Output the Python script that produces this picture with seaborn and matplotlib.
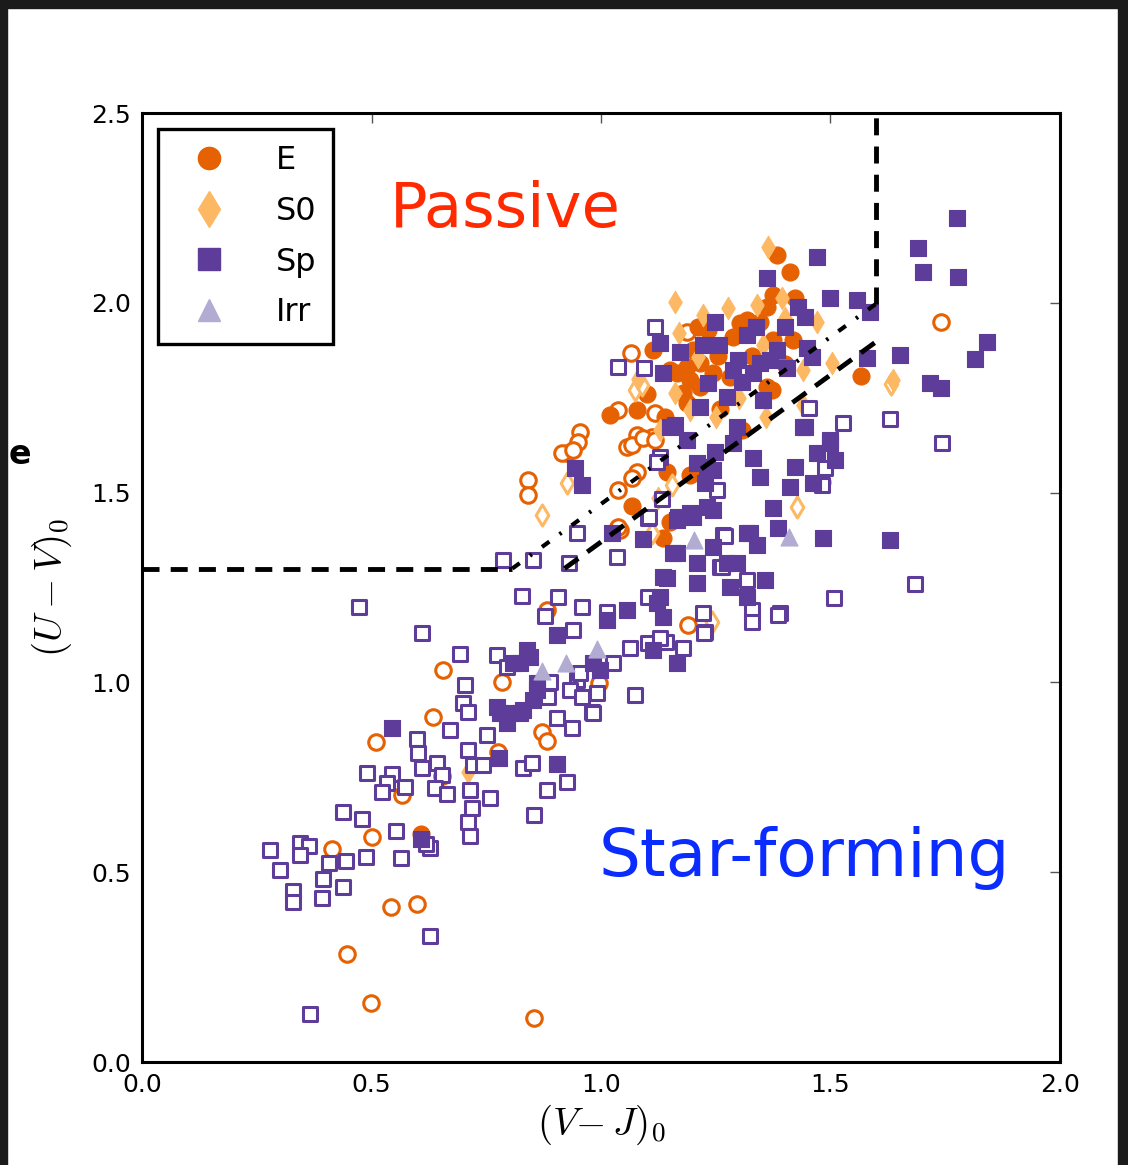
import matplotlib
matplotlib.use("Agg")
import matplotlib.pyplot as plt
from matplotlib.lines import Line2D
from matplotlib.patches import Rectangle
import pandas as pd
import seaborn as sns

# ── Data: (V-J)_0, (U-V)_0 per morphology, filled / open markers ──────────────
E_FILLED = [
    (1.383, 2.126), (1.412, 2.081), (1.423, 2.013), (1.375, 2.021), (1.362, 1.989),
    (1.346, 1.949), (1.318, 1.955), (1.303, 1.947), (1.211, 1.936), (1.233, 1.928),
    (1.288, 1.910), (1.113, 1.876), (1.200, 1.876), (1.216, 1.841), (1.187, 1.831),
    (1.166, 1.815), (1.194, 1.797), (1.244, 1.815), (1.216, 1.778), (1.179, 1.762),
    (1.150, 1.823), (1.187, 1.736), (1.362, 1.778), (1.418, 1.902), (1.375, 1.902),
    (1.020, 1.704), (1.078, 1.717), (1.373, 1.770), (1.281, 1.804), (1.566, 1.807),
    (1.068, 1.465), (1.144, 1.554), (1.194, 1.546), (1.135, 1.380), (1.150, 1.423),
    (1.307, 1.665), (1.481, 1.528), (1.255, 1.860), (1.330, 1.860), (1.400, 1.840),
    (1.260, 1.720), (1.100, 1.760), (1.140, 1.700), (0.608, 0.600),
]
E_OPEN = [
    (1.065, 1.868), (1.187, 1.923), (1.037, 1.717), (1.118, 1.710), (0.954, 1.660),
    (0.950, 1.633), (0.926, 1.604), (0.915, 1.604), (1.078, 1.652), (1.057, 1.620),
    (1.111, 1.646), (0.841, 1.533), (0.841, 1.494), (1.037, 1.507), (1.041, 1.401),
    (1.068, 1.625), (1.092, 1.644), (1.118, 1.639), (1.078, 1.554), (1.068, 1.538),
    (1.741, 1.949), (0.882, 1.191), (0.656, 1.033), (0.784, 1.001), (0.634, 0.909),
    (0.871, 0.869), (0.882, 0.846), (0.996, 0.998), (1.190, 1.151), (1.037, 1.409),
    (0.510, 0.843), (0.566, 0.703), (0.501, 0.593), (0.414, 0.561), (0.542, 0.408),
    (0.599, 0.416), (0.447, 0.285), (0.499, 0.155), (0.854, 0.116), (0.776, 0.817),
    (0.654, 0.753), (0.939, 1.612),
]
S0_FILLED = [
    (1.364, 2.147), (1.161, 2.002), (1.277, 1.986), (1.340, 1.994), (1.222, 1.968),
    (1.394, 2.013), (1.353, 1.889), (1.161, 1.762), (1.440, 1.823), (1.211, 1.857),
    (1.194, 1.717), (1.471, 1.949), (1.503, 1.841), (1.129, 1.665), (1.124, 1.486),
    (1.636, 1.797), (1.400, 1.960), (1.300, 1.750), (1.250, 1.700), (1.360, 1.700),
    (1.440, 1.730), (1.080, 1.800), (1.170, 1.920), (0.710, 0.764),
]
S0_OPEN = [
    (1.074, 1.770), (1.089, 1.783), (0.926, 1.525), (1.155, 1.520), (1.427, 1.462),
    (1.111, 1.394), (0.871, 1.441), (1.242, 1.159), (1.631, 1.785),
]
SP_FILLED = [
    (0.545, 0.880), (0.608, 0.587), (0.904, 0.785), (0.778, 0.801), (0.830, 0.927),
    (0.852, 0.954), (0.802, 0.919), (0.773, 0.935), (0.861, 0.998), (0.824, 1.051),
    (0.845, 1.067), (0.839, 1.085), (0.808, 1.051), (0.795, 0.893), (0.780, 0.919),
    (0.983, 1.051), (0.998, 1.033), (0.904, 1.125), (1.013, 1.164), (1.057, 1.191),
    (1.122, 1.209), (1.135, 1.172), (1.166, 1.051), (1.113, 1.085), (1.129, 1.225),
    (1.144, 1.275), (1.209, 1.262), (1.209, 1.315), (1.244, 1.357), (1.281, 1.251),
    (1.296, 1.315), (1.157, 1.341), (1.092, 1.378), (1.024, 1.394), (1.168, 1.436),
    (1.194, 1.446), (1.231, 1.462), (1.227, 1.525), (1.244, 1.560), (1.209, 1.578),
    (1.318, 1.394), (1.318, 1.225), (0.943, 1.565), (0.959, 1.520), (1.166, 1.428),
    (1.200, 1.436), (1.244, 1.454), (1.231, 1.568), (1.331, 1.591), (1.346, 1.541),
    (1.375, 1.459), (1.386, 1.407), (1.325, 1.394), (1.340, 1.362), (1.423, 1.568),
    (1.412, 1.515), (1.462, 1.525), (1.471, 1.604), (1.499, 1.631), (1.510, 1.586),
    (1.484, 1.380), (1.440, 1.673), (1.288, 1.631), (1.248, 1.607), (1.166, 1.341),
    (1.135, 1.278), (1.275, 1.315), (1.357, 1.270), (1.296, 1.673), (1.150, 1.673),
    (1.187, 1.639), (1.630, 1.375), (0.861, 0.980), (0.824, 0.919),
    (1.362, 2.065), (1.471, 2.121), (1.429, 1.989), (1.444, 1.963), (1.401, 1.936),
    (1.318, 1.915), (1.338, 1.936), (1.248, 1.949), (1.449, 1.881), (1.383, 1.876),
    (1.368, 1.849), (1.346, 1.841), (1.298, 1.849), (1.288, 1.823), (1.331, 1.815),
    (1.307, 1.791), (1.353, 1.744), (1.275, 1.752), (1.233, 1.789), (1.216, 1.726),
    (1.257, 1.889), (1.222, 1.889), (1.172, 1.870), (1.129, 1.894), (1.135, 1.815),
    (1.161, 1.678), (1.405, 1.828), (1.460, 1.857), (1.444, 1.673),
    (1.776, 2.223), (1.691, 2.144), (1.702, 2.081), (1.778, 2.068), (1.499, 2.013),
    (1.558, 2.008), (1.586, 1.976), (1.580, 1.855), (1.651, 1.863), (1.841, 1.897),
    (1.815, 1.852), (1.717, 1.789), (1.741, 1.776), (1.499, 1.639),
]
SP_OPEN = [
    (0.279, 0.558), (0.344, 0.577), (0.364, 0.569), (0.344, 0.545), (0.301, 0.506),
    (0.407, 0.524), (0.444, 0.530), (0.395, 0.482), (0.437, 0.461), (0.329, 0.450),
    (0.329, 0.421), (0.392, 0.432), (0.488, 0.540), (0.564, 0.537), (0.553, 0.608),
    (0.437, 0.659), (0.479, 0.640), (0.627, 0.564), (0.618, 0.575), (0.627, 0.332),
    (0.366, 0.126), (0.490, 0.761), (0.545, 0.759), (0.534, 0.735), (0.523, 0.711),
    (0.573, 0.724), (0.599, 0.851), (0.601, 0.814), (0.610, 0.775), (0.643, 0.788),
    (0.654, 0.756), (0.638, 0.722), (0.664, 0.706), (0.671, 0.875), (0.704, 0.993),
    (0.700, 0.946), (0.710, 0.922), (0.710, 0.822), (0.721, 0.782), (0.715, 0.717),
    (0.719, 0.669), (0.710, 0.632), (0.715, 0.595), (0.743, 0.782), (0.758, 0.696),
    (0.752, 0.861), (0.773, 1.072), (0.693, 1.075), (0.830, 0.775), (0.850, 0.788),
    (0.882, 0.717), (0.926, 0.738), (0.854, 0.651), (0.937, 0.880), (0.904, 0.906),
    (0.889, 1.001), (0.948, 1.006), (0.980, 0.922), (0.991, 0.972), (0.932, 0.980),
    (0.473, 1.199), (0.610, 1.130),
    (0.786, 1.322), (0.852, 1.322), (0.930, 1.315), (0.948, 1.394), (1.035, 1.330),
    (1.102, 1.433), (1.133, 1.483), (0.828, 1.228), (0.907, 1.225), (0.878, 1.175),
    (0.959, 1.199), (0.939, 1.138), (0.795, 1.041), (0.954, 1.025), (0.959, 0.962),
    (0.983, 0.919), (1.074, 0.967), (0.885, 0.962), (1.063, 1.091), (1.102, 1.104),
    (1.142, 1.106), (1.179, 1.091), (1.102, 1.225), (1.222, 1.183), (1.227, 1.133),
    (1.259, 1.304), (1.266, 1.388), (1.253, 1.507), (1.129, 1.594),
    (1.118, 1.936), (1.037, 1.831), (1.094, 1.828), (1.453, 1.723), (1.527, 1.683),
    (1.630, 1.694), (1.743, 1.631), (1.481, 1.520), (1.488, 1.565), (1.684, 1.259),
    (1.508, 1.222), (1.105, 1.436), (1.122, 1.581), (1.270, 1.386), (1.318, 1.270),
    (1.390, 1.183), (1.329, 1.191), (1.329, 1.159), (1.386, 1.178), (1.224, 1.130),
    (1.129, 1.117), (1.026, 1.051), (1.013, 1.185), (1.264, 1.304),
]
IRR_FILLED = [(0.871, 1.030), (0.924, 1.051), (0.991, 1.088), (1.203, 1.375), (1.410, 1.383)]

MORPH_LABELS = ["E", "S0", "Sp", "Irr"]
MORPH_COLORS = {"E": "#e66101", "S0": "#fdb863", "Sp": "#5e3c99", "Irr": "#b2abd2"}
MORPH_MARKERS = {"E": "o", "S0": "d", "Sp": "s", "Irr": "^"}

# UVJ selection box (Williams et al. style): U-V = 0.88 (V-J) + 0.59
BOX_SLOPE = 0.88
BOX_ICPT = 0.59
BOX_UV_MIN = 1.3
BOX_VJ_MAX = 1.6
SHIFT = 0.10

rows = []
for morph, filled, pts in [
    ("E", False, E_OPEN), ("E", True, E_FILLED),
    ("S0", False, S0_OPEN), ("S0", True, S0_FILLED),
    ("Sp", False, SP_OPEN), ("Sp", True, SP_FILLED),
    ("Irr", True, IRR_FILLED),
]:
    for vj, uv in pts:
        rows.append({"vj": vj, "uv": uv, "morph": morph, "filled": filled})
df = pd.DataFrame(rows)

# ── Style ─────────────────────────────────────────────────────────────────────
sns.set_theme(style="white")
plt.rcParams.update({
    "font.family": ["DejaVu Sans"],
    "mathtext.fontset": "cm",
    "text.color": "black", "axes.labelcolor": "black",
    "xtick.direction": "in", "ytick.direction": "in",
    "xtick.top": True, "ytick.right": True,
    "xtick.major.size": 7, "ytick.major.size": 7,
    "xtick.major.width": 1.0, "ytick.major.width": 1.0,
    "xtick.color": "#555555", "ytick.color": "#555555",
    "xtick.labelcolor": "black", "ytick.labelcolor": "black",
})

fig = plt.figure(figsize=(11.28, 11.65), dpi=100)
ax = fig.add_axes([0.1259, 0.0884, 0.8138, 0.8146])

SIZES = {"E": (150, 125), "S0": (130, 115), "Sp": (130, 115), "Irr": (150, 150)}

for morph in MORPH_LABELS:
    col = MORPH_COLORS[morph]
    mk = MORPH_MARKERS[morph]
    s_fill, s_open = SIZES[morph]
    sub_open = df[(df.morph == morph) & (~df.filled)]
    sub_fill = df[(df.morph == morph) & (df.filled)]
    if len(sub_open):
        sns.scatterplot(data=sub_open, x="vj", y="uv", ax=ax, marker=mk, s=s_open,
                        color="white", edgecolor=col, linewidth=2.2, legend=False, zorder=3)
    if len(sub_fill):
        sns.scatterplot(data=sub_fill, x="vj", y="uv", ax=ax, marker=mk, s=s_fill,
                        color=col, edgecolor=col, linewidth=0.8, legend=False, zorder=3)

# selection boundaries
x0 = (BOX_UV_MIN - BOX_ICPT) / BOX_SLOPE
ax.plot([0, x0], [BOX_UV_MIN, BOX_UV_MIN], color="black", lw=3.5, dashes=(3.5, 2.3), zorder=4)
ax.plot([BOX_VJ_MAX, BOX_VJ_MAX], [BOX_SLOPE * BOX_VJ_MAX + BOX_ICPT, 2.5],
        color="black", lw=3.5, dashes=(3.5, 2.3), zorder=4)
ax.plot([x0, BOX_VJ_MAX], [BOX_UV_MIN, BOX_SLOPE * BOX_VJ_MAX + BOX_ICPT],
        color="black", lw=3, dashes=(2.2, 3.0, 0.6, 3.0), zorder=4)
x1 = (BOX_UV_MIN - BOX_ICPT + SHIFT) / BOX_SLOPE
ax.plot([x1, BOX_VJ_MAX], [BOX_UV_MIN, BOX_SLOPE * BOX_VJ_MAX + BOX_ICPT - SHIFT],
        color="black", lw=3.5, dashes=(3.5, 2.3), zorder=4)

ax.text(0.54, 2.245, "Passive", color="#ff2a00", fontsize=45, va="center", ha="left")
ax.text(0.995, 0.537, "Star-forming", color="#0a2cff", fontsize=47.5, va="center", ha="left")

ax.set_xlim(0, 2.0)
ax.set_ylim(0, 2.5)
ax.set_xticks([0.0, 0.5, 1.0, 1.5, 2.0])
ax.set_yticks([0.0, 0.5, 1.0, 1.5, 2.0, 2.5])
ax.tick_params(labelsize=18, pad=8)
ax.set_xlabel(r"$(V\!-J)_0$", fontsize=28, labelpad=4)
ax.set_ylabel(r"$(U-V)_0$", fontsize=28, labelpad=12)
for sp in ax.spines.values():
    sp.set_color("black")
    sp.set_linewidth(2.2)

handles = [
    Line2D([], [], ls="none", marker=MORPH_MARKERS[m], color=MORPH_COLORS[m],
           markersize={"E": 16, "S0": 18, "Sp": 16, "Irr": 16}[m], label=m)
    for m in MORPH_LABELS
]
leg = ax.legend(handles=handles, loc="upper left", fontsize=23, frameon=True,
                fancybox=False, framealpha=1.0, borderaxespad=0.5, handletextpad=1.0,
                labelspacing=0.62, borderpad=0.5, handlelength=2.2)
leg.get_frame().set_edgecolor("black")
leg.get_frame().set_linewidth(2.4)

# screenshot edges
dark = "#1b1b1b"
fig.patches.append(Rectangle((0, 0), 7 / 1128, 1, transform=fig.transFigure, color=dark, zorder=0))
fig.patches.append(Rectangle((0, 1 - 8 / 1165), 1, 8 / 1165, transform=fig.transFigure, color=dark, zorder=0))
fig.patches.append(Rectangle((1 - 10 / 1128, 0), 10 / 1128, 1, transform=fig.transFigure, color=dark, zorder=0))
fig.text(0.008, 1 - 455 / 1165, "e", fontsize=24, fontweight="bold", va="center", ha="left")

fig.savefig("out.png", dpi=100)
